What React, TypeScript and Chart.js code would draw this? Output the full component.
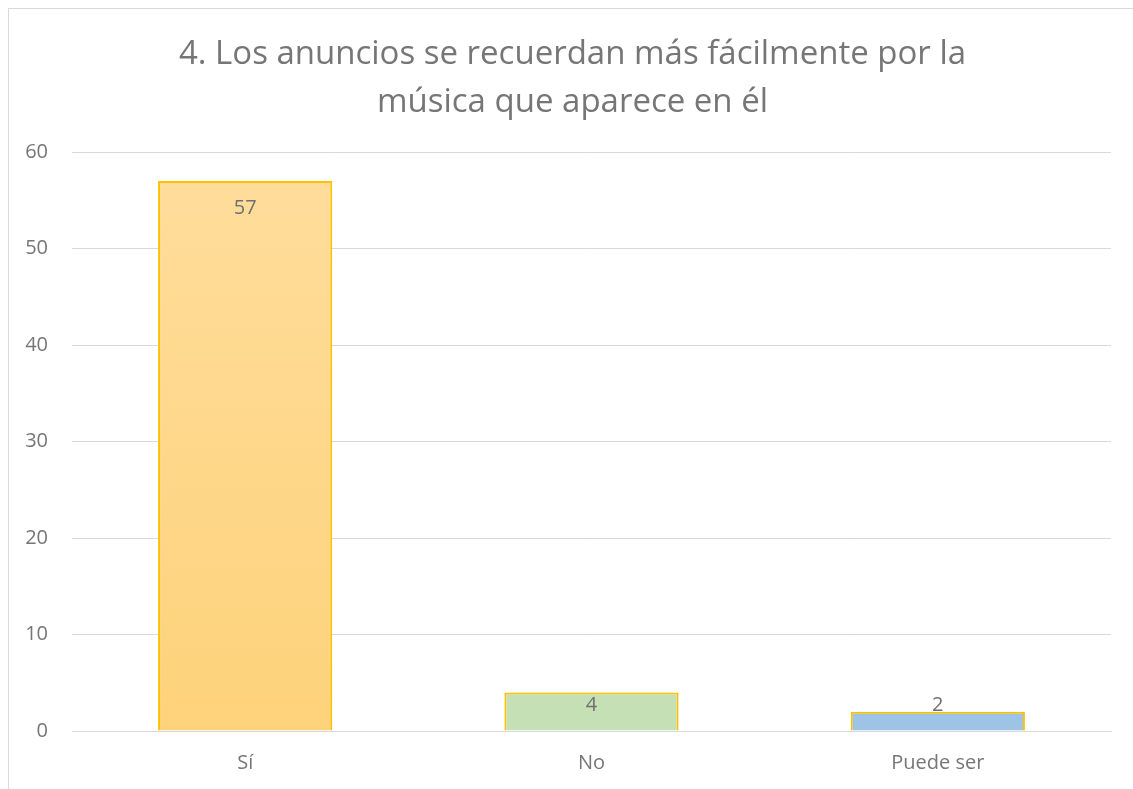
import React, { useEffect, useRef } from "react";
import { Chart, registerables } from "chart.js";

Chart.register(...registerables);

const titleLines = ["4. Los anuncios se recuerdan más fácilmente por la", "música que aparece en él"];
const categories = ["Sí", "No", "Puede ser"];
const values = [57, 4, 2];
const yTicks = [0, 10, 20, 30, 40, 50, 60];

const FONT = "'Open Sans', sans-serif";
const TEXT = "#767676";

const titlePlugin = {
  id: "customTitle",
  afterDraw(chart: any) {
    const { ctx } = chart;
    ctx.save();
    ctx.font = `33px ${FONT}`;
    ctx.fillStyle = TEXT;
    ctx.textAlign = "center";
    ctx.textBaseline = "alphabetic";
    titleLines.forEach((line, i) => {
      ctx.fillText(line, 563.5, 55 + i * 48);
    });
    ctx.restore();
  },
};

const labelPlugin = {
  id: "insideEndLabels",
  afterDatasetsDraw(chart: any) {
    const { ctx } = chart;
    const meta = chart.getDatasetMeta(0);
    const base = chart.scales.y.getPixelForValue(0);
    ctx.save();
    ctx.font = `20px ${FONT}`;
    ctx.fillStyle = "#707070";
    ctx.textAlign = "center";
    ctx.textBaseline = "middle";
    meta.data.forEach((el: any, i: number) => {
      const y = Math.min(el.y + 27, base - 26);
      ctx.fillText(String(values[i]), el.x, y);
    });
    ctx.restore();
  },
};

export default function App() {
  const ref = useRef<HTMLCanvasElement | null>(null);
  useEffect(() => {
    document.documentElement.style.overflow = "hidden";
    document.body.style.overflow = "hidden";
    const canvas = ref.current!;
    const chart = new Chart(canvas, {
      type: "bar",
      data: {
        labels: categories,
        datasets: [
          {
            data: values,
            backgroundColor: (c: any) => {
              const i = c.dataIndex;
              if (i === 0) {
                const area = c.chart.chartArea;
                if (!area) return "#FED98C";
                const g = c.chart.ctx.createLinearGradient(0, area.top, 0, area.bottom);
                g.addColorStop(0, "#FFDD9C");
                g.addColorStop(1, "#FDD27A");
                return g;
              }
              return i === 1 ? "#C6E0B5" : "#9DC3E6";
            },
            borderColor: "#FFC000",
            borderWidth: 2,
            barPercentage: 0.503,
            categoryPercentage: 1,
          },
        ],
      },
      plugins: [labelPlugin, titlePlugin],
      options: {
        animation: false,
        responsive: false,
        maintainAspectRatio: false,
        layout: { padding: { left: 0, right: 22, top: 143, bottom: 0 } },
        plugins: {
          legend: { display: false },
          tooltip: { enabled: false },
          title: { display: false },
        },
        scales: {
          x: {
            grid: { display: false, drawTicks: false },
            border: { display: true, color: "#d9d9d9", width: 1 },
            ticks: { color: TEXT, font: { family: FONT, size: 20 }, padding: 20 },
            afterFit: (s: any) => { s.height = 58; },
          },
          y: {
            min: 0,
            max: 60,
            afterBuildTicks: (s: any) => { s.ticks = yTicks.map((v) => ({ value: v })); },
            grid: { color: "#d9d9d9", lineWidth: 1, drawTicks: false },
            border: { display: false },
            ticks: { color: TEXT, font: { family: FONT, size: 20 }, padding: 24 },
            afterFit: (s: any) => { s.width = 63; },
          },
        },
      },
    } as any);
    return () => chart.destroy();
  }, []);
  return (
    <div
      style={{
        position: "absolute",
        left: 8,
        top: 8,
        width: 1125,
        height: 781,
        borderLeft: "1px solid #d9d9d9",
        borderTop: "1px solid #d9d9d9",
        background: "#fff",
        overflow: "hidden",
      }}
    >
      <canvas ref={ref} width={1124} height={780} style={{ display: "block" }} />
    </div>
  );
}
